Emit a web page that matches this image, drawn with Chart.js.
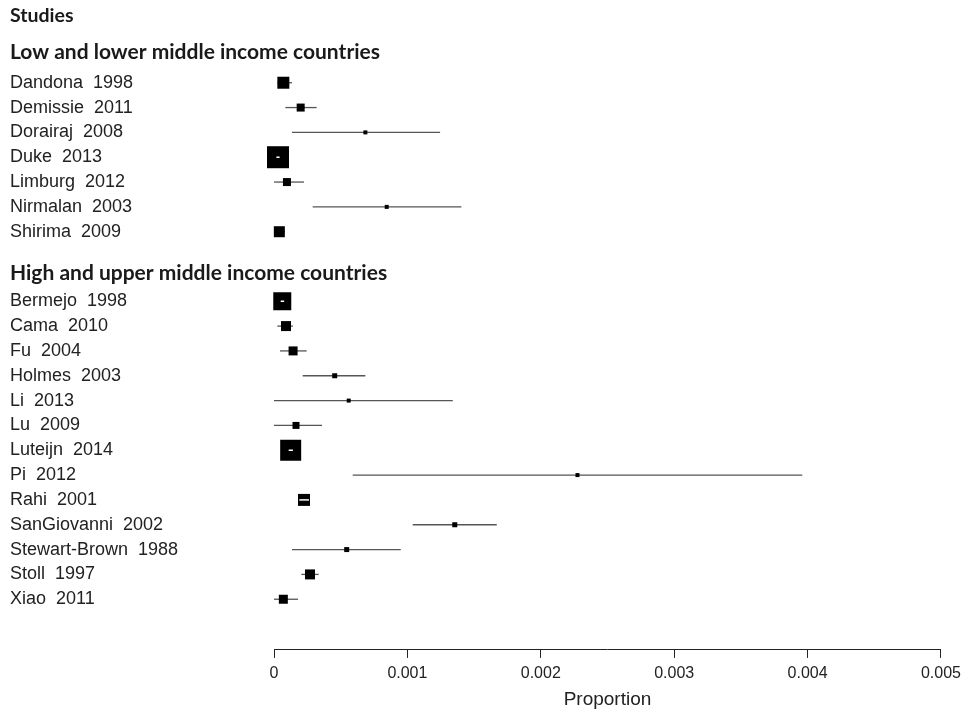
<!DOCTYPE html>
<html>
<head>
<meta charset="utf-8">
<script src="https://cdn.jsdelivr.net/npm/chart.js@4.4.1/dist/chart.umd.min.js"></script>
<style>
  html, body { margin: 0; padding: 0; background: #ffffff; }
  #wrap { width: 967px; height: 710px; }
</style>
</head>
<body>
<div id="wrap"><canvas id="c" width="967" height="710"></canvas></div>
<script>
// ---------- data ----------
const headerTitle = 'Studies';
const groupNames = ['Low and lower middle income countries', 'High and upper middle income countries'];

const lowStudies = ['Dandona  1998', 'Demissie  2011', 'Dorairaj  2008', 'Duke  2013', 'Limburg  2012', 'Nirmalan  2003', 'Shirima  2009'];
const lowEst   = [0.000070, 0.000200, 0.000685, 0.000030, 0.000097, 0.000845, 0.000040];
const lowLower = [0.000025, 0.000085, 0.000135, 0.000018, 0.000000, 0.000290, 0.000000];
const lowUpper = [0.000135, 0.000320, 0.001245, 0.000042, 0.000225, 0.001405, 0.000082];
const lowWeight = [14.4, 6.4, 1.6, 48.4, 6.4, 1.6, 12.1];

const highStudies = ['Bermejo  1998', 'Cama  2010', 'Fu  2004', 'Holmes  2003', 'Li  2013', 'Lu  2009', 'Luteijn  2014', 'Pi  2012', 'Rahi  2001', 'SanGiovanni  2002', 'Stewart-Brown  1988', 'Stoll  1997', 'Xiao  2011'];
const highEst   = [0.000062, 0.000090, 0.000143, 0.000455, 0.000560, 0.000165, 0.000125, 0.002275, 0.000225, 0.001355, 0.000545, 0.000270, 0.000070];
const highLower = [0.000050, 0.000025, 0.000045, 0.000215, 0.000000, 0.000000, 0.000110, 0.000590, 0.000190, 0.001040, 0.000135, 0.000205, 0.000000];
const highUpper = [0.000076, 0.000142, 0.000245, 0.000685, 0.001340, 0.000360, 0.000142, 0.003960, 0.000262, 0.001670, 0.000950, 0.000335, 0.000180];
const highWeight = [32.4, 10.0, 8.1, 2.5, 1.6, 4.9, 44.1, 1.6, 14.4, 2.5, 2.5, 10.0, 8.1];

const xTickLabels = ['0', '0.001', '0.002', '0.003', '0.004', '0.005'];
const xTitle = 'Proportion';

// ---------- layout of rows (row units on the y scale) ----------
const LOW_START = 1;
const HIGH_START = 9.8;
const STUDIES_ROW = -1.70;
const LOW_HEADER_ROW = -0.21;
const HIGH_HEADER_ROW = 8.66;

const studies = [];
lowStudies.forEach((n, i) => studies.push({ name: n, est: lowEst[i], lo: lowLower[i], hi: lowUpper[i], w: lowWeight[i], row: LOW_START + i }));
highStudies.forEach((n, i) => studies.push({ name: n, est: highEst[i], lo: highLower[i], hi: highUpper[i], w: highWeight[i], row: HIGH_START + i }));

const sideOf = w => Math.sqrt(w * 10); // square side in px from weight

const datasets = [];
// CI lines (behind squares)
studies.forEach(s => {
  datasets.push({
    type: 'line',
    data: [{ x: s.lo, y: s.row }, { x: s.hi, y: s.row }],
    borderColor: '#555555',
    borderWidth: 1.3,
    pointRadius: 0,
    fill: false,
    clip: false,
    order: 3
  });
});
// squares
const sqRadius = ctx => {
  const s = studies[ctx.dataIndex];
  return s ? sideOf(s.w) / Math.SQRT2 : 0;
};
datasets.push({
  type: 'scatter',
  data: studies.map(s => ({ x: s.est, y: s.row })),
  pointStyle: 'rect',
  pointRadius: sqRadius,
  pointHoverRadius: sqRadius,
  backgroundColor: '#000000',
  borderColor: '#000000',
  borderWidth: 0,
  clip: false,
  order: 2
});
// white CI lines when the interval lies inside the square
studies.forEach(s => {
  datasets.push({
    type: 'line',
    data: [{ x: s.lo, y: s.row }, { x: s.hi, y: s.row }],
    borderColor: ctx => {
      const xs = ctx.chart.scales.x;
      if (!xs) return 'rgba(0,0,0,0)';
      const wpx = xs.getPixelForValue(s.hi) - xs.getPixelForValue(s.lo);
      return wpx < sideOf(s.w) - 1 ? '#ffffff' : 'rgba(0,0,0,0)';
    },
    borderWidth: 1.5,
    pointRadius: 0,
    fill: false,
    clip: false,
    order: 1
  });
});

const labelPlugin = {
  id: 'forestLabels',
  afterDraw(chart) {
    const ctx = chart.ctx;
    const ys = chart.scales.y;
    ctx.save();
    ctx.fillStyle = '#1a1a1a';
    ctx.textAlign = 'left';
    ctx.textBaseline = 'middle';
    ctx.font = 'bold 19.5px Lato';
    ctx.fillText(headerTitle, 10, ys.getPixelForValue(STUDIES_ROW));
    ctx.font = 'bold 21px Lato';
    ctx.fillText(groupNames[0], 10, ys.getPixelForValue(LOW_HEADER_ROW));
    ctx.fillText(groupNames[1], 10, ys.getPixelForValue(HIGH_HEADER_ROW));
    ctx.font = '18px "Liberation Sans", Arial, sans-serif';
    ctx.fillStyle = '#222222';
    studies.forEach(s => ctx.fillText(s.name, 10, ys.getPixelForValue(s.row)));
    ctx.restore();
  }
};

new Chart(document.getElementById('c'), {
  type: 'scatter',
  data: { datasets },
  options: {
    responsive: false,
    animation: false,
    events: [],
    layout: { padding: { left: 274, right: 24, top: 2, bottom: 0 } },
    plugins: { legend: { display: false }, tooltip: { enabled: false } },
    scales: {
      x: {
        type: 'linear',
        min: 0,
        max: 0.005,
        grid: { drawOnChartArea: false, drawTicks: true, tickLength: 8, color: '#222222', lineWidth: 1 },
        border: { display: true, color: '#222222', width: 1 },
        ticks: {
          stepSize: 0.001,
          padding: 6,
          color: '#222222',
          font: { family: '"Liberation Sans", Arial, sans-serif', size: 16 },
          maxRotation: 0,
          callback: (v, i) => xTickLabels[i]
        },
        title: {
          display: true,
          text: xTitle,
          color: '#222222',
          font: { family: '"Liberation Sans", Arial, sans-serif', size: 19, lineHeight: 1.1 },
          padding: { top: 0, bottom: 0 }
        }
      },
      y: {
        type: 'linear',
        display: false,
        reverse: true,
        min: -1.705,
        max: 23.84
      }
    }
  },
  plugins: [labelPlugin]
});
</script>
</body>
</html>
